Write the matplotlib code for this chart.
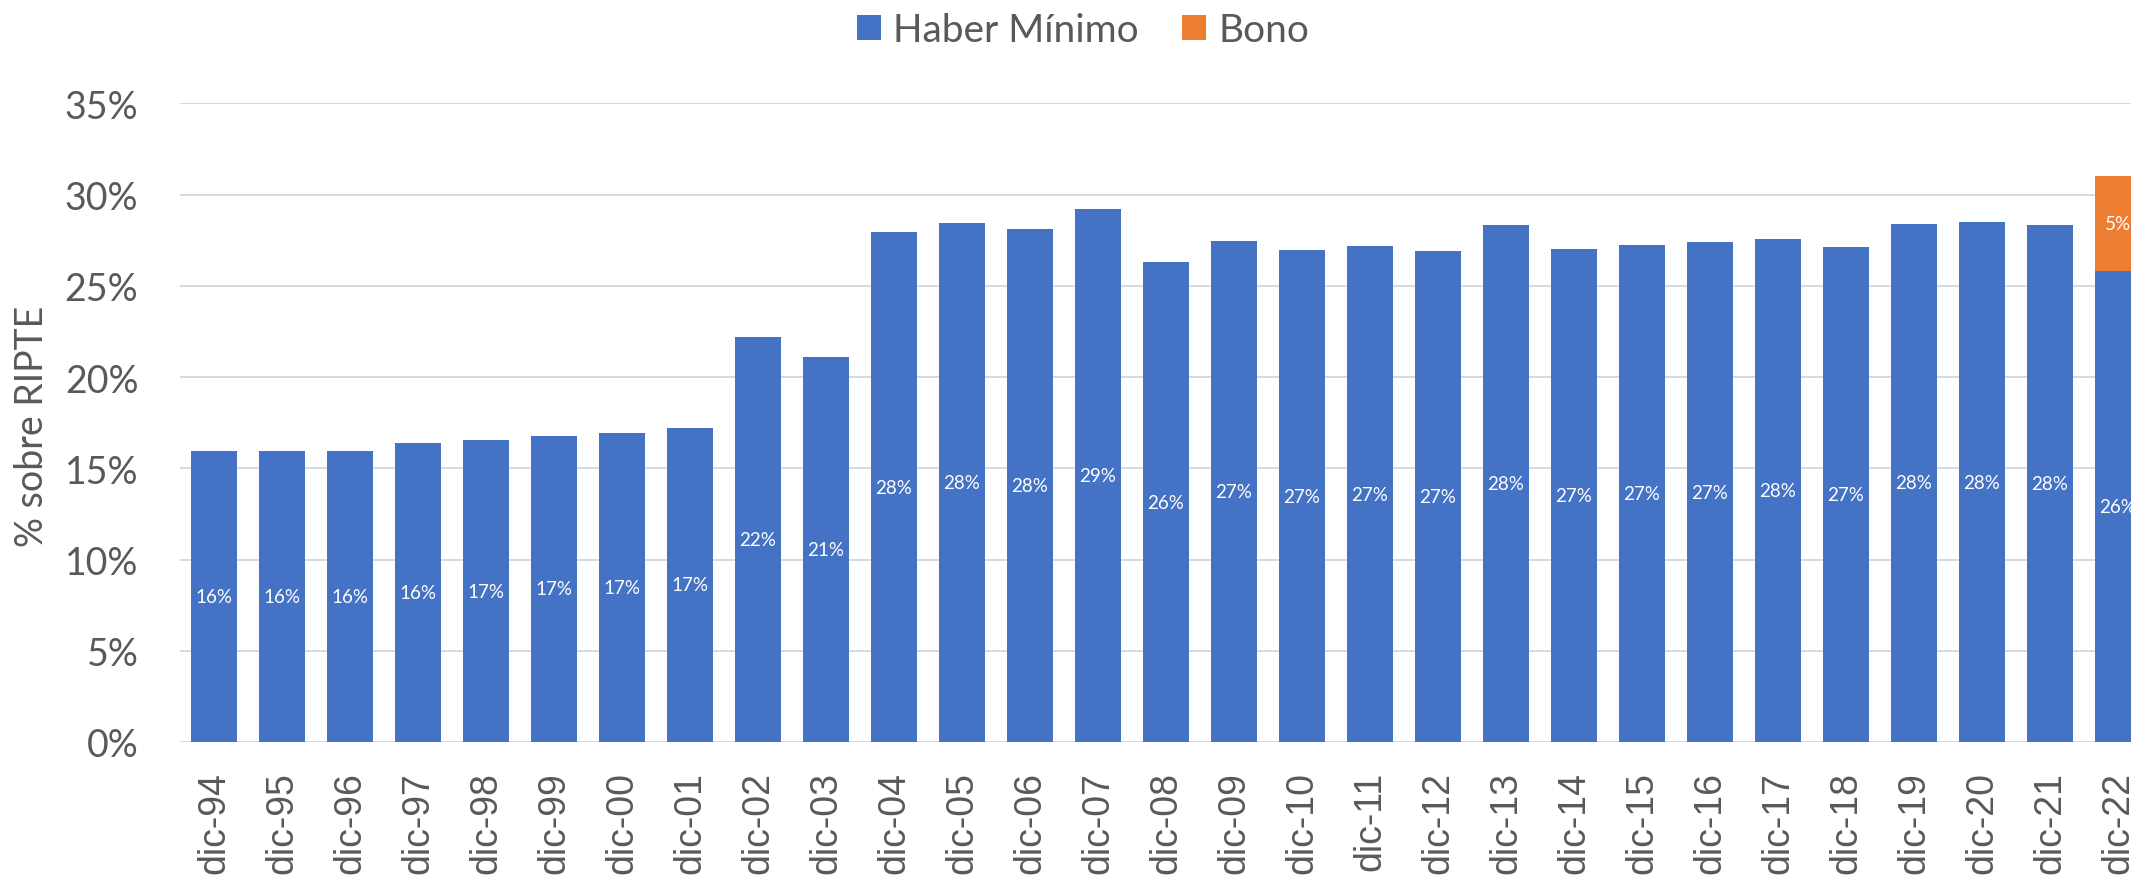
import matplotlib

matplotlib.use("Agg")

import matplotlib.pyplot as plt
from matplotlib.ticker import FuncFormatter

# --------------------------------------------
# datos (% sobre RIPTE)
# --------------------------------------------
periodos = [
    "dic-94", "dic-95", "dic-96", "dic-97", "dic-98", "dic-99", "dic-00",
    "dic-01", "dic-02", "dic-03", "dic-04", "dic-05", "dic-06", "dic-07",
    "dic-08", "dic-09", "dic-10", "dic-11", "dic-12", "dic-13", "dic-14",
    "dic-15", "dic-16", "dic-17", "dic-18", "dic-19", "dic-20", "dic-21",
    "dic-22",
]
haber_minimo = [
    15.97, 15.95, 15.93, 16.37, 16.54, 16.79, 16.92, 17.21, 22.20, 21.11,
    27.92, 28.45, 28.09, 29.20, 26.29, 27.44, 26.94, 27.17, 26.90, 28.32,
    27.04, 27.21, 27.38, 27.55, 27.11, 28.39, 28.47, 28.32, 25.79,
]
bono = [0] * 28 + [5.2]
y_ticks = [0, 5, 10, 15, 20, 25, 30, 35]

AZUL = "#4472C4"
NARANJA = "#ED7D31"
GRIS = "#595959"
GRILLA = "#D9D9D9"
FUENTE = ["Lato", "DejaVu Sans"]

plt.rcParams["font.family"] = FUENTE

fig = plt.figure(figsize=(21.31, 8.79), dpi=100)
# el área de gráfico sigue más allá del borde derecho (recorte como el original)
ax = fig.add_axes([180 / 2131, 136 / 879, 1972 / 2131, 638.7 / 879])

x = list(range(len(periodos)))
ancho = 0.667

b1 = ax.bar(x, haber_minimo, width=ancho, color=AZUL, label="Haber Mínimo", zorder=3)
b2 = ax.bar(x, bono, width=ancho, bottom=haber_minimo, color=NARANJA, label="Bono", zorder=3)

# etiquetas dentro de las barras
for xi, h in zip(x, haber_minimo):
    ax.text(xi, h / 2, f"{h:.0f}%", ha="center", va="center",
            color="white", fontsize=13.5, zorder=4)
for xi, h, b in zip(x, haber_minimo, bono):
    if b > 0:
        ax.text(xi, h + b / 2, f"{b:.0f}%", ha="center", va="center",
                color="white", fontsize=13.5, zorder=4)

# ejes
ax.set_xlim(-0.5, len(periodos) - 0.5)
ax.set_ylim(0, 35)
ax.set_yticks(y_ticks)
ax.yaxis.set_major_formatter(FuncFormatter(lambda v, _: f"{v:.0f}%"))
ax.set_xticks(x)
ax.set_xticklabels(periodos, rotation=90, family=["Liberation Sans", "DejaVu Sans"],
                   fontsize=27, color=GRIS)
ax.tick_params(axis="x", length=0, pad=21)
ax.tick_params(axis="y", length=0, pad=30, labelsize=27, labelcolor=GRIS)

ax.grid(axis="y", color=GRILLA, linewidth=1.4, zorder=0)
for s in ["top", "right", "left", "bottom"]:
    ax.spines[s].set_visible(False)

fig.text(32 / 2131, 1 - 426 / 879, "% sobre RIPTE", rotation=90,
         ha="center", va="center", fontsize=27, color=GRIS)

fig.legend(
    handles=[b1, b2],
    labels=["Haber Mínimo", "Bono"],
    loc="center",
    bbox_to_anchor=(1083 / 2131, 1 - 31 / 879),
    ncol=2,
    frameon=False,
    fontsize=28,
    labelcolor=GRIS,
    handlelength=0.62,
    handleheight=0.62,
    handletextpad=0.32,
    columnspacing=1.1,
)

fig.savefig("out.png", dpi=100)
